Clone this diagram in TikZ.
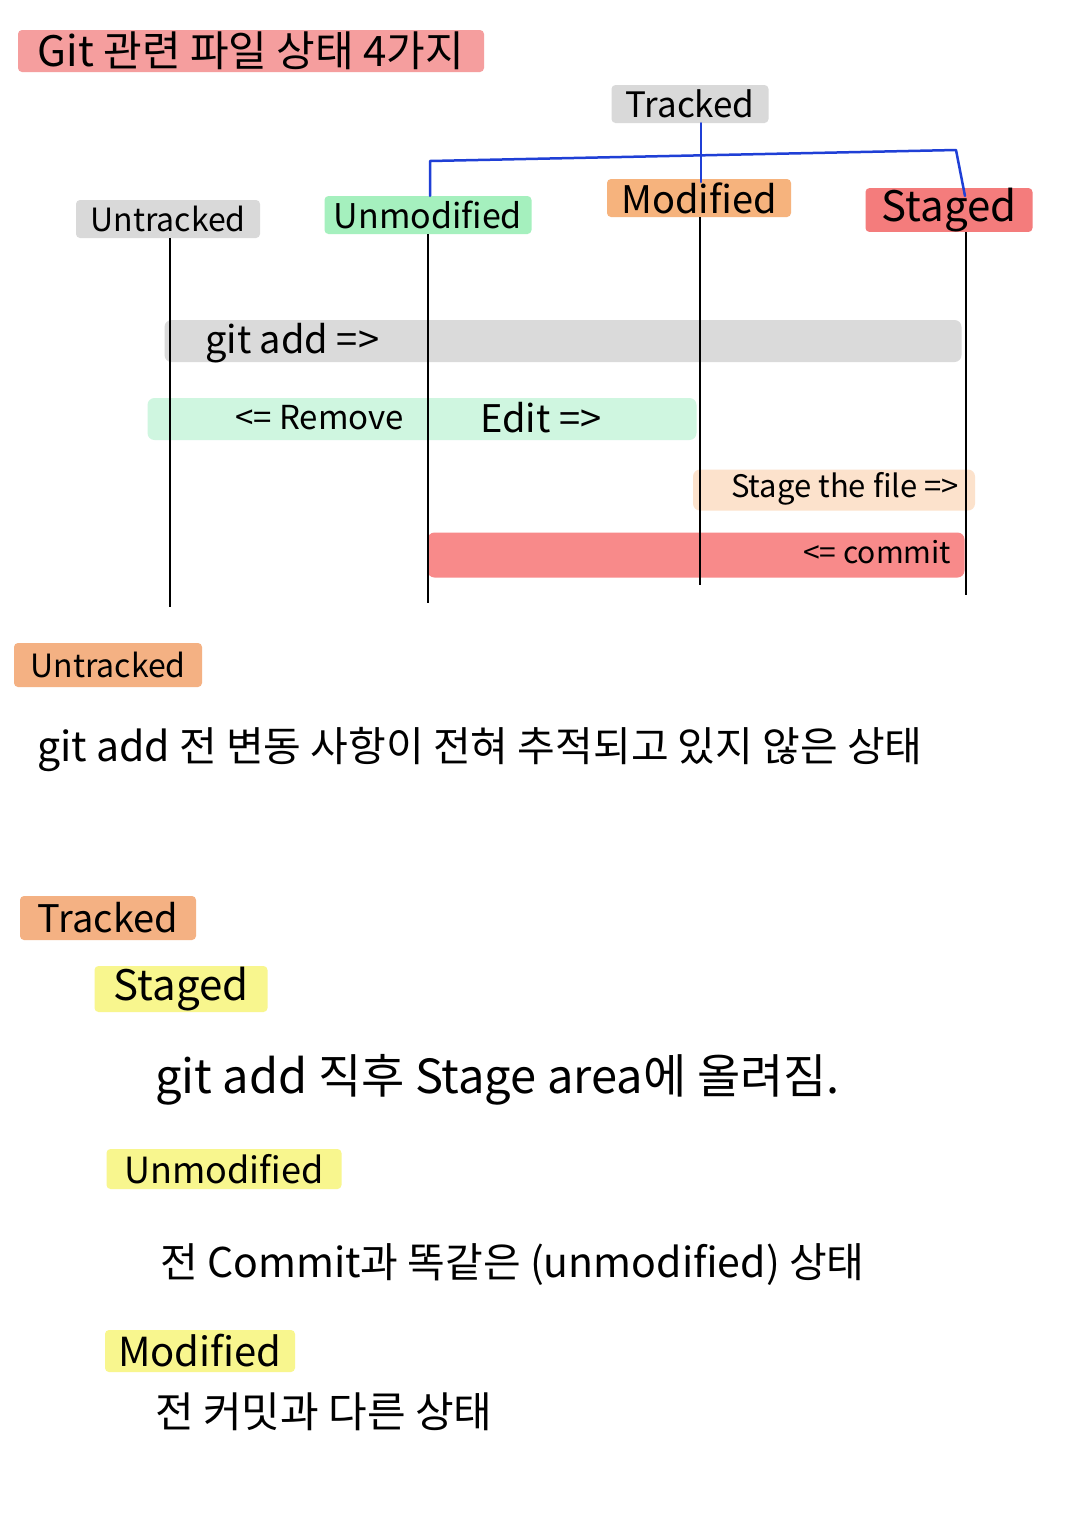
\documentclass[tikz,border=0pt]{standalone}
\usepackage{fontspec}
\setmainfont{Noto Sans CJK KR}
\usetikzlibrary{calc}
\newcommand{\setfs}[1]{\fontsize{#1}{#1}\selectfont}
\definecolor{titlepink}{RGB}{245,158,158}
\definecolor{lblgray}{RGB}{217,217,217}
\definecolor{lblgreen}{RGB}{165,240,190}
\definecolor{lblorange}{RGB}{246,179,125}
\definecolor{lblred}{RGB}{244,124,124}
\definecolor{bandgray}{RGB}{218,218,218}
\definecolor{bandgreen}{RGB}{207,246,224}
\definecolor{bandpeach}{RGB}{252,226,204}
\definecolor{bandred}{RGB}{248,138,138}
\definecolor{headorange}{RGB}{244,177,131}
\definecolor{headyellow}{RGB}{248,246,142}
\definecolor{myblue}{RGB}{31,63,214}
\begin{document}
\begin{tikzpicture}[x=1pt,y=-1pt,
  hl/.style={rectangle, rounded corners=4pt, inner sep=0pt, text=black},
  band/.style={rectangle, rounded corners=7pt, inner sep=0pt, minimum height=42pt},
  vline/.style={line width=2.2pt, black},
  blueline/.style={line width=2.5pt, myblue, line join=round, line cap=round},
  txt/.style={inner sep=0pt, anchor=west, text=black},
  lbl/.style={hl, minimum height=38pt, font=\setfs{30}},
  head/.style={hl, minimum height=44pt, font=\setfs{32}},
  desc/.style={txt, font=\setfs{38}}
]
\useasboundingbox (0,0) rectangle (1080,1527);
\fill[white] (0,0) rectangle (1080,1527);

% title
\node[hl, fill=titlepink, minimum width=466pt, minimum height=42pt, font=\setfs{42}] (title) at (251,51) {Git 관련 파일 상태 4가지};

% state labels
\node[lbl, fill=lblgray, minimum width=157pt, font=\setfs{35}] (tracked) at (690,104) {Tracked};
\node[lbl, fill=lblgray, minimum width=184pt, font=\setfs{32}] (untr) at (168,219) {Untracked};
\node[lbl, fill=lblgreen, minimum width=207pt, font=\setfs{34}] (unmod) at (428,215) {Unmodified};
\node[lbl, fill=lblorange, minimum width=184pt, font=\setfs{38}] (mod) at (699,198) {Modified};
\node[lbl, fill=lblred, minimum width=167pt, font=\setfs{42}] (stg) at (949,210) {Staged};

% blue bracket
\coordinate (brL) at (430,161);
\coordinate (brR) at (956,150);
\coordinate (brE) at (965,196);
\draw[blueline] (unmod.north -| brL) -- (brL) -- (brR) -- (brE);
\draw[blueline] (tracked.south -| 701,0) -- (701,182);

% bands
\node[band, fill=bandgray, minimum width=797pt] (addband) at (563,341) {};
\node[band, fill=bandgreen, minimum width=549pt] (editband) at (422,419) {};
\node[band, fill=bandpeach, minimum width=282pt, minimum height=41pt] (stageband) at (834,490) {};
\node[band, fill=bandred, minimum width=537pt, minimum height=45pt] (commitband) at (696,555) {};

% vertical lines
\coordinate (untrB) at (170,607);
\coordinate (unmodB) at (428,603);
\coordinate (modB) at (700,585);
\coordinate (stgB) at (966,595);
\draw[vline] (untr.south -| untrB) -- (untrB);
\draw[vline] (unmod.south -| unmodB) -- (unmodB);
\draw[vline] (mod.south -| modB) -- (modB);
\draw[vline] (stg.south -| stgB) -- (stgB);

% band texts
\node[txt, font=\setfs{38}] (addtxt) at (205,343) {git add =>};
\node[txt, font=\setfs{33}] (rmtxt) at (235,418) {<= Remove};
\node[txt, font=\setfs{38}] (edittxt) at (480,418) {Edit =>};
\node[txt, font=\setfs{31}] (stagetxt) at (731,489) {Stage the file =>};
\node[txt, font=\setfs{30}] (committxt) at (803,552) {<= commit};

% Untracked section
\node[head, fill=headorange, minimum width=188pt] (h1) at (108,665) {Untracked};
\node[desc, font=\setfs{41}] (d1) at (37,750) {git add 전 변동 사항이 전혀 추적되고 있지 않은 상태};

% Tracked section
\node[head, fill=headorange, minimum width=176pt, font=\setfs{38}] (h2) at (108,918) {Tracked};
\node[head, fill=headyellow, minimum width=173pt, minimum height=46pt, font=\setfs{42}] (h3) at (181,989) {Staged};
\node[desc, font=\setfs{47}] (d3) at (155,1080) {git add 직후 Stage area에 올려짐.};
\node[head, fill=headyellow, minimum width=235pt, minimum height=40pt, font=\setfs{36}] (h4) at (224,1169) {Unmodified};
\node[desc, font=\setfs{41}] (d4) at (160,1265) {전 Commit과 똑같은 (unmodified) 상태};
\node[head, fill=headyellow, minimum width=190pt, minimum height=42pt, font=\setfs{40}] (h5) at (200,1351) {Modified};
\node[desc, font=\setfs{42}] (d5) at (155,1412) {전 커밋과 다른 상태};
\end{tikzpicture}
\end{document}
